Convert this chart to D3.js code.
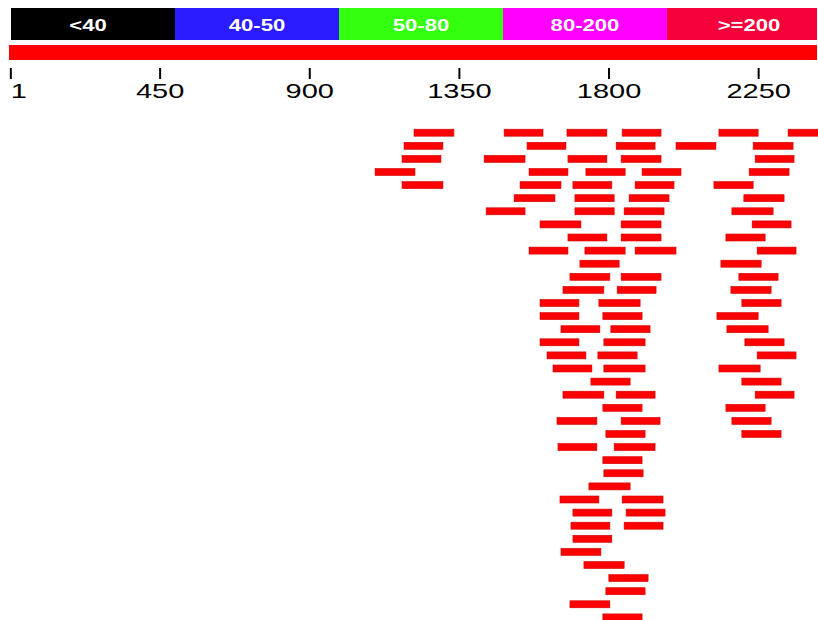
<!DOCTYPE html>
<html>
<head>
<meta charset="utf-8">
<script src="https://cdn.jsdelivr.net/npm/d3@7"></script>
<style>
  body { margin: 0; background: #fff; }
  svg { display: block; }
</style>
</head>
<body>
<div id="chart"></div>
<script>
// score legend
const scoreLabels = ["<40", "40-50", "50-80", "80-200", ">=200"];
const scoreColors = ["#000000", "#2a1cff", "#33ff0f", "#ff00ff", "#f5003a"];

// query
const queryLength = 2430;
const tickValues = [1, 450, 900, 1350, 1800, 2250];

// hits, one list of [start, end] per row
const hitRows = [
  [[1215, 1335], [1486, 1603], [1675, 1795], [1841, 1958], [2132, 2250], [2340, 2430]],
  [[1185, 1302], [1555, 1672], [1823, 1940], [2003, 2123], [2235, 2355]],
  [[1179, 1296], [1426, 1549], [1678, 1795], [1838, 1958], [2241, 2358]],
  [[1098, 1218], [1561, 1678], [1732, 1850], [1901, 2018], [2223, 2343]],
  [[1179, 1302], [1534, 1657], [1693, 1810], [1880, 1997], [2117, 2235]],
  [[1516, 1639], [1699, 1817], [1862, 1982], [2207, 2328]],
  [[1432, 1549], [1699, 1817], [1847, 1967], [2171, 2295]],
  [[1594, 1717], [1838, 1958], [2232, 2349]],
  [[1678, 1795], [1838, 1958], [2153, 2271]],
  [[1561, 1678], [1729, 1850], [1880, 2003], [2247, 2364]],
  [[1714, 1832], [2138, 2259]],
  [[1684, 1804], [1838, 1958], [2192, 2310]],
  [[1663, 1786], [1826, 1943], [2168, 2289]],
  [[1594, 1711], [1771, 1895], [2201, 2319]],
  [[1594, 1711], [1783, 1901], [2126, 2250]],
  [[1657, 1774], [1807, 1925], [2156, 2280]],
  [[1594, 1711], [1786, 1910], [2210, 2328]],
  [[1615, 1732], [1768, 1886], [2247, 2364]],
  [[1633, 1750], [1786, 1910], [2132, 2256]],
  [[1747, 1865], [2201, 2319]],
  [[1663, 1786], [1823, 1940], [2241, 2358]],
  [[1783, 1901], [2153, 2271]],
  [[1645, 1765], [1838, 1955], [2171, 2289]],
  [[1792, 1910], [2201, 2319]],
  [[1648, 1765], [1817, 1940]],
  [[1783, 1901]],
  [[1786, 1904]],
  [[1741, 1865]],
  [[1654, 1771], [1841, 1964]],
  [[1693, 1810], [1853, 1970]],
  [[1687, 1804], [1847, 1964]],
  [[1693, 1810]],
  [[1657, 1777]],
  [[1726, 1847]],
  [[1801, 1919]],
  [[1792, 1910]],
  [[1684, 1804]],
  [[1783, 1901]]
];

const width = 818;
const height = 620;

const svg = d3.select("#chart")
  .append("svg")
  .attr("width", width)
  .attr("height", height);

const x = d3.scaleLinear()
  .domain([0, queryLength])
  .range([10, 818]);

// legend strip
const segW = 164;
const legend = svg.append("g");
legend.selectAll("rect")
  .data(scoreLabels)
  .join("rect")
  .attr("x", (d, i) => 11 + i * segW)
  .attr("y", 8)
  .attr("width", (d, i) => Math.min(segW, 817 - (11 + i * segW)))
  .attr("height", 32)
  .attr("fill", (d, i) => scoreColors[i]);

legend.selectAll("text")
  .data(scoreLabels)
  .join("text")
  .attr("transform", (d, i) => `translate(${11 + i * segW + segW / 2 - (i === 0 ? 5 : 0)}, 31) scale(1.3,1)`)
  .attr("text-anchor", "middle")
  .attr("font-family", "Liberation Sans, Arial, sans-serif")
  .attr("font-weight", "bold")
  .attr("font-size", 17)
  .attr("fill", "#fff")
  .text(d => d);

// query bar
svg.append("rect")
  .attr("x", x(0) - 1)
  .attr("y", 45)
  .attr("width", x(queryLength) - x(0))
  .attr("height", 15)
  .attr("fill", "#ff0000");

// axis
const xAxis = d3.axisBottom(x)
  .tickValues(tickValues)
  .tickFormat(d3.format("d"))
  .tickSize(11)
  .tickPadding(4);

const axisG = svg.append("g")
  .attr("transform", "translate(0, 68)")
  .call(xAxis);

axisG.select(".domain").remove();
axisG.selectAll(".tick line")
  .attr("stroke", "#000")
  .attr("stroke-width", 2);
axisG.selectAll(".tick text")
  .attr("font-family", "Liberation Sans, Arial, sans-serif")
  .attr("font-size", 21)
  .attr("fill", "#000")
  .attr("transform", "scale(1.38,1)")
  .attr("text-anchor", (d, i) => i === 0 ? "start" : "middle");

// hits
const y = d3.scalePoint()
  .domain(d3.range(hitRows.length))
  .range([132.7, 132.7 + 13.1 * (hitRows.length - 1)]);

const hits = hitRows.flatMap((row, r) => row.map(h => ({ row: r, start: h[0], end: h[1] })));

svg.append("g")
  .selectAll("rect")
  .data(hits)
  .join("rect")
  .attr("x", d => x(d.start))
  .attr("y", d => y(d.row) - 3.5)
  .attr("width", d => x(d.end) - x(d.start))
  .attr("height", 7)
  .attr("fill", "#ff0000")
  .attr("stroke", "#d00000")
  .attr("stroke-width", 0.6);
</script>
</body>
</html>
